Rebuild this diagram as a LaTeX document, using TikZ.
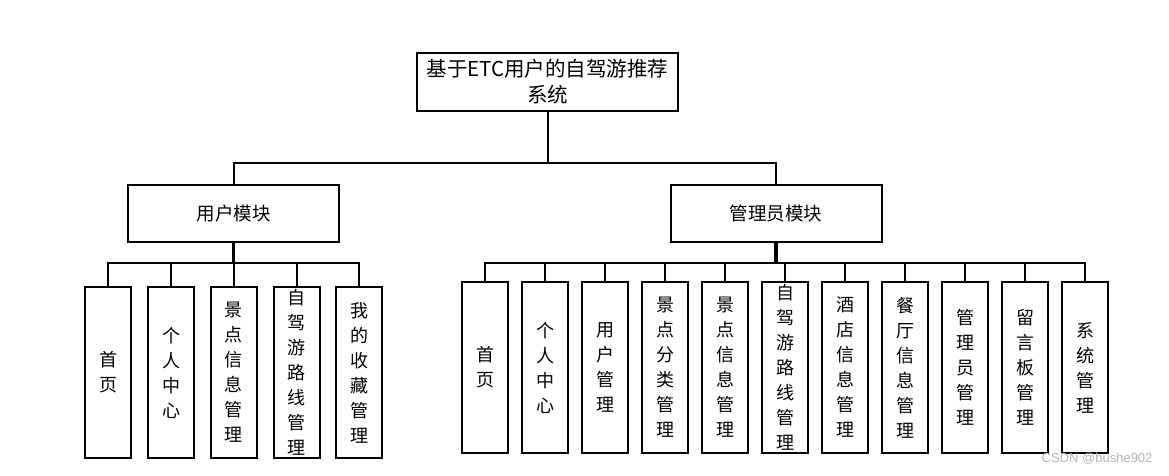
\documentclass[tikz,border=0pt]{standalone}
\usepackage{fontspec}
\setmainfont{Noto Sans CJK SC}
\newfontfamily\markfont{Liberation Sans}
\begin{document}
\begin{tikzpicture}[x=1pt, y=-1pt,
    top/.style={rectangle, draw, line width=2pt, minimum width=261pt, minimum height=58pt, inner sep=2pt, align=center, font=\fontsize{20.5}{26}\selectfont},
    module/.style={rectangle, draw, line width=2pt, minimum width=211pt, minimum height=57pt, font=\fontsize{18.5}{22}\selectfont},
    leaf/.style={rectangle, draw, line width=2pt, minimum width=46pt, minimum height=171pt, inner sep=1pt, align=center, font=\fontsize{18}{25}\selectfont},
    link/.style={line width=2pt},
    stem/.style={line width=3.5pt}]
    \useasboundingbox (0,0) rectangle (1169,475);

    % 系统
    \node[top] (S) at (547.5, 82) {基于ETC用户的自驾游推荐\\系统};

    % 模块
    \node[module] (U) at (233.5, 213.5) {用户模块};
    \node[module] (M) at (776, 213.5) {管理员模块};

    % 用户模块
    \node[leaf] (U1) at (108, 372.5) {首\\页};
    \node[leaf] (U2) at (171, 372.5) {个\\人\\中\\心};
    \node[leaf] (U3) at (233.5, 372.5) {景\\点\\信\\息\\管\\理};
    \node[leaf] (U4) at (296.5, 372.5) {自\\驾\\游\\路\\线\\管\\理};
    \node[leaf] (U5) at (359, 372.5) {我\\的\\收\\藏\\管\\理};

    % 管理员模块
    \node[leaf] (M1) at (485, 367.5) {首\\页};
    \node[leaf] (M2) at (545, 367.5) {个\\人\\中\\心};
    \node[leaf] (M3) at (605, 367.5) {用\\户\\管\\理};
    \node[leaf] (M4) at (665, 367.5) {景\\点\\分\\类\\管\\理};
    \node[leaf] (M5) at (725, 367.5) {景\\点\\信\\息\\管\\理};
    \node[leaf] (M6) at (785, 367.5) {自\\驾\\游\\路\\线\\管\\理};
    \node[leaf] (M7) at (845, 367.5) {酒\\店\\信\\息\\管\\理};
    \node[leaf] (M8) at (905, 367.5) {餐\\厅\\信\\息\\管\\理};
    \node[leaf] (M9) at (965, 367.5) {管\\理\\员\\管\\理};
    \node[leaf] (M10) at (1025, 367.5) {留\\言\\板\\管\\理};
    \node[leaf] (M11) at (1085, 367.5) {系\\统\\管\\理};

    \coordinate (sb) at (547.5, 163);
    \coordinate (ub) at (233.5, 263);
    \coordinate (mb) at (776, 263);

    \draw[link] (S) -- (sb);
    \draw[link] (sb) -| (U);
    \draw[link] (sb) -| (M);

    \draw[stem] (U) -- (ub);
    \draw[link] (ub) -| (U1);
    \draw[link] (ub) -| (U2);
    \draw[link] (ub) -- (U3);
    \draw[link] (ub) -| (U4);
    \draw[link] (ub) -| (U5);

    \draw[stem] (M) -- (mb);
    \draw[link] (mb) -| (M1);
    \draw[link] (mb) -| (M2);
    \draw[link] (mb) -| (M3);
    \draw[link] (mb) -| (M4);
    \draw[link] (mb) -| (M5);
    \draw[link] (mb) -| (M6);
    \draw[link] (mb) -| (M7);
    \draw[link] (mb) -| (M8);
    \draw[link] (mb) -| (M9);
    \draw[link] (mb) -| (M10);
    \draw[link] (mb) -| (M11);

    \node[anchor=east, text=gray!60, font=\markfont\fontsize{13}{15}\selectfont] (W) at (1156, 459) {CSDN @bushe902};
\end{tikzpicture}
\end{document}
